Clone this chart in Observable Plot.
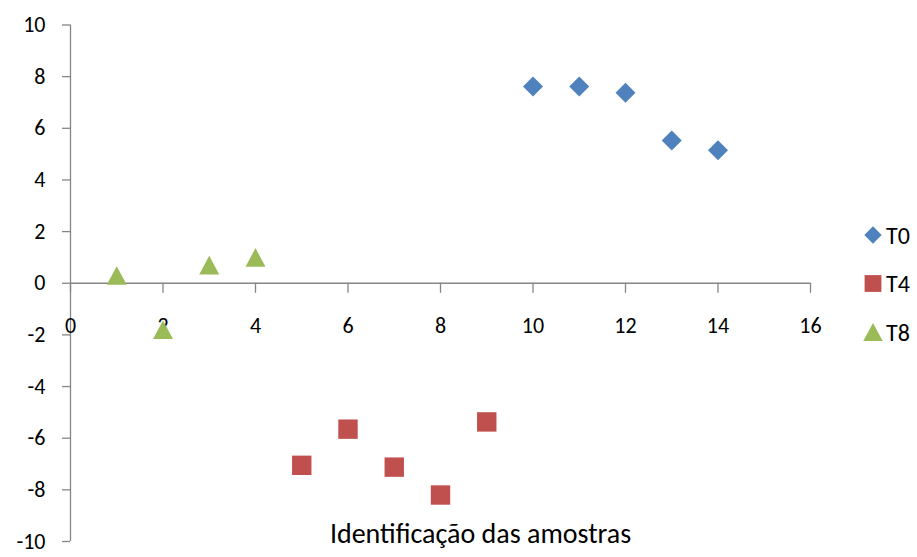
<!DOCTYPE html>
<html><head><meta charset="utf-8">
<script src="https://cdn.jsdelivr.net/npm/d3@7"></script>
<script src="https://cdn.jsdelivr.net/npm/@observablehq/plot@0.6"></script>
<style>
body{margin:0;background:#fff;}
#wrap{position:relative;width:917px;height:557px;font-family:Carlito,Calibri,Lato,sans-serif;}
#legend{position:absolute;left:0;top:0;pointer-events:none;}
</style></head><body><div id="wrap"></div>
<script>
// ---- data ----
const seriesNames = ["T0", "T4", "T8"];
const seriesColors = ["#4F81BD", "#C0504D", "#9BBB59"];
const t0X = [10, 11, 12, 13, 14];
const t0Y = [7.62, 7.62, 7.38, 5.53, 5.15];
const t4X = [5, 6, 7, 8, 9];
const t4Y = [-7.05, -5.65, -7.12, -8.2, -5.37];
const t8X = [1, 2, 3, 4];
const t8Y = [0.3, -1.8, 0.7, 1.0];
const xTicks = [0, 2, 4, 6, 8, 10, 12, 14, 16];
const yTicks = [-10, -8, -6, -4, -2, 0, 2, 4, 6, 8, 10];
const xTitle = "Identificação das amostras";

// ---- symbols (bbox-centred like Excel markers) ----
const diamondSym = {draw(c, size) { const h = Math.sqrt(size) / 2; c.moveTo(0, -h); c.lineTo(h, 0); c.lineTo(0, h); c.lineTo(-h, 0); c.closePath(); }};
const squareSym = {draw(c, size) { const h = Math.sqrt(size) / 2 * 0.97; c.rect(-h, -h, 2 * h, 2 * h); }};
const triangleSym = {draw(c, size) { const w = Math.sqrt(size), h = w * 0.93; c.moveTo(0, -h / 2); c.lineTo(w / 2, h / 2); c.lineTo(-w / 2, h / 2); c.closePath(); }};
const symbols = [diamondSym, squareSym, triangleSym];

const seriesX = [t0X, t4X, t8X];
const seriesY = [t0Y, t4Y, t8Y];
const series = seriesNames.map((name, k) => ({
  name, color: seriesColors[k], symbol: symbols[k],
  data: seriesX[k].map((x, i) => ({x, y: seriesY[k][i]}))
}));

const gray = "#868686";
const R = Math.sqrt(400 / Math.PI);
const tickShape = {draw(c, l) { c.moveTo(0, 0); c.lineTo(0, -l); }};
const FONT = "Carlito, Calibri, Lato, sans-serif";

const chart = Plot.plot({
  width: 917,
  height: 557,
  marginLeft: 70,
  marginRight: 107,
  marginTop: 24.5,
  marginBottom: 16,
  style: {fontFamily: FONT, background: "#fff", color: "#000"},
  x: {domain: [0, 16], axis: null},
  y: {domain: [-10, 10], axis: null},
  marks: [
    Plot.ruleY([0], {stroke: gray, strokeWidth: 1.3}),
    Plot.ruleX([0], {stroke: gray, strokeWidth: 1.3}),
    Plot.axisY(yTicks, {label: null, tickSize: 8, tickPadding: 17, stroke: gray, strokeWidth: 1.3, fill: "#000", fontSize: 22, tickFormat: d => String(d)}),
    Plot.vector(xTicks, {x: d => d, y: () => 0, length: 9, rotate: 180, anchor: "start", shape: tickShape, stroke: gray, strokeWidth: 1.3}),
    Plot.text(xTicks, {x: d => d, y: () => 0, text: d => String(d), dy: 43, fontSize: 22, fill: "#000"}),
    ...series.map(s => Plot.dot(s.data, {x: "x", y: "y", symbol: s.symbol, r: R, fill: s.color, stroke: "none"})),
    Plot.text([xTitle], {frameAnchor: "bottom", text: d => d, dx: 40, dy: 1, fontSize: 28, fill: "#000"})
  ]
});
const wrap = document.getElementById("wrap");
wrap.appendChild(chart);

// ---- legend ----
const legendTop = [235, 283.5, 332];
const leg = d3.select(wrap).append("svg").attr("id", "legend").attr("width", 917).attr("height", 557);
series.forEach((s, k) => {
  const g = leg.append("g").attr("transform", `translate(873,${legendTop[k]})`);
  const p = d3.path();
  s.symbol.draw(p, k === 2 ? 380 : 300);
  g.append("path").attr("d", p.toString()).attr("fill", s.color);
  g.append("text").attr("x", 13).attr("y", 0).attr("dy", "0.36em").attr("font-size", 24)
    .attr("font-family", FONT).attr("fill", "#000").text(s.name);
});
</script>
</body></html>
